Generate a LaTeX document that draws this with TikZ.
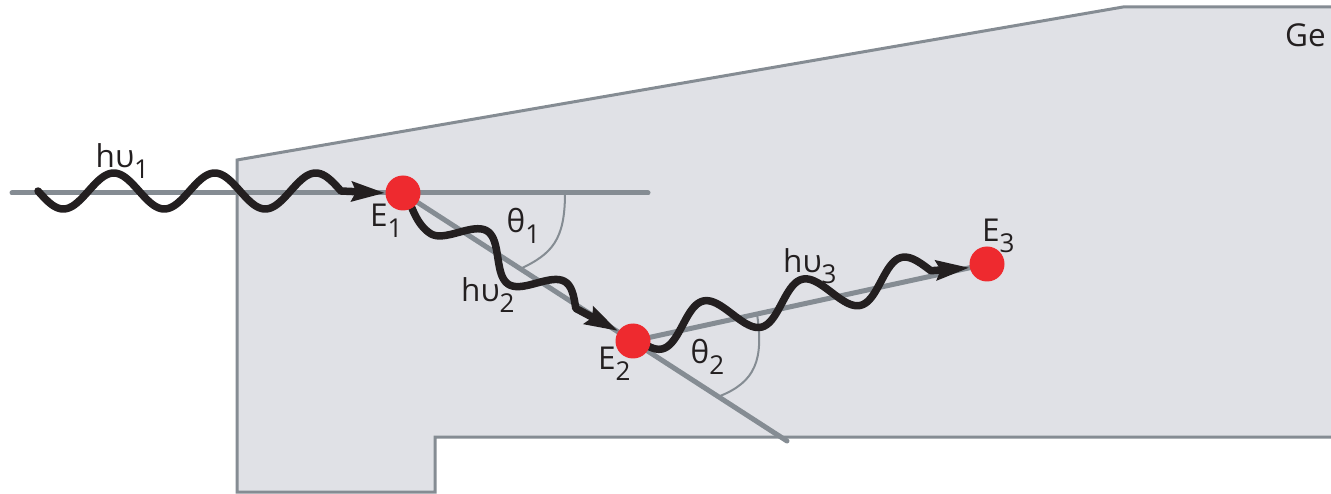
\documentclass[tikz,border=0pt]{standalone}
\usepackage{fontspec}
\setmainfont{Open Sans}
\usetikzlibrary{arrows.meta,calc}
\pgfdeclarelayer{bg}
\pgfsetlayers{bg,main}
\definecolor{gefill}{HTML}{E0E1E6}
\definecolor{gegray}{HTML}{858C93}
\definecolor{dotred}{HTML}{EE2A2F}
\definecolor{photon}{HTML}{231F20}
\newcommand{\sbs}[1]{\raisebox{-11pt}{\fontsize{26}{26}\selectfont #1}}
\begin{document}
\begin{tikzpicture}[x=1pt,y=-1pt,
  lbl/.style={inner sep=0pt, anchor=base west, font=\fontsize{31.5}{36}\selectfont, text=photon},
  dot/.style={circle, fill=dotred, minimum size=35pt, inner sep=0pt},
  guide/.style={gegray, line width=5pt, line cap=round},
  arcline/.style={gegray, line width=2pt},
  edge/.style={gegray, line width=3pt},
  wave/.style={photon, line width=7.5pt, line join=round, line cap=round,
    -{Stealth[length=33pt,width=19pt,inset=4pt]}},
]
\useasboundingbox (0,0) rectangle (1331,494);

% interaction points
\node[dot] (E1) at (403,193) {};
\node[dot] (E2) at (633,341) {};
\node[dot] (E3) at (987,264) {};

\coordinate (hl) at (12,193);
\coordinate (hr) at (648,193);
\coordinate (dend) at (787,441);

\begin{pgfonlayer}{bg}
  % germanium crystal
  \path[fill=gefill] (237,160) -- (1123,7) -- (1331,7) -- (1331,437) -- (435,437)
     -- (435,492) -- (237,492) -- cycle;
  \draw[edge] (1331,7) -- (1123,7) -- (237,160) -- (237,492) -- (435,492)
     -- (435,437) -- (1331,437);
  % guide lines
  \draw[guide] (hl) -- (hr);
  \draw[guide] (E1.center) -- (dend);
  \draw[guide] (E2.center) -- (E3.center);
  % angle arcs
  \draw[arcline] (565,193) .. controls (565,240) and (552,254) .. (520,269);
  \draw[arcline] (757,314) .. controls (764,360) and (755,382) .. (720,396);
  % photons
  \draw[wave] plot[domain=38:341, samples=150] (\x, {191+18*sin(3.5644*(\x-38))}) -- (E1.west);
  \begin{scope}[shift={(E1.center)}, rotate=-33.05]
    \draw[wave] plot[domain=5:45, samples=40] (\x, {19*sin(2.25*(\x-5))})
      -- plot[domain=45:207.75, samples=120] (\x, {2.5+16.5*sin(3.871*(\x-21.75))})
      -- (E2.146.95);
  \end{scope}
  \begin{scope}[shift={(E2.center)}, rotate=12.39]
    \draw[wave] plot[domain=10:306, samples=180] (\x, {-5-19*sin(3.5468*(\x-52))})
      -- (E3.192.39);
  \end{scope}
\end{pgfonlayer}

% labels
\node[lbl] (l1) at (95.5,168) {hυ\sbs{1}};
\node[lbl] (l2) at (461,302) {hυ\sbs{2}};
\node[lbl] (l3) at (783,273) {hυ\sbs{3}};
\node[lbl] (e1) at (370,227) {E\sbs{1}};
\node[lbl] (e2) at (598,370) {E\sbs{2}};
\node[lbl] (e3) at (982,242) {E\sbs{3}};
\node[lbl] (t1) at (506.5,233) {θ\sbs{1}};
\node[lbl] (t2) at (690.5,363) {θ\sbs{2}};
\node[lbl] (ge) at (1285,47) {Ge};
\end{tikzpicture}
\end{document}
